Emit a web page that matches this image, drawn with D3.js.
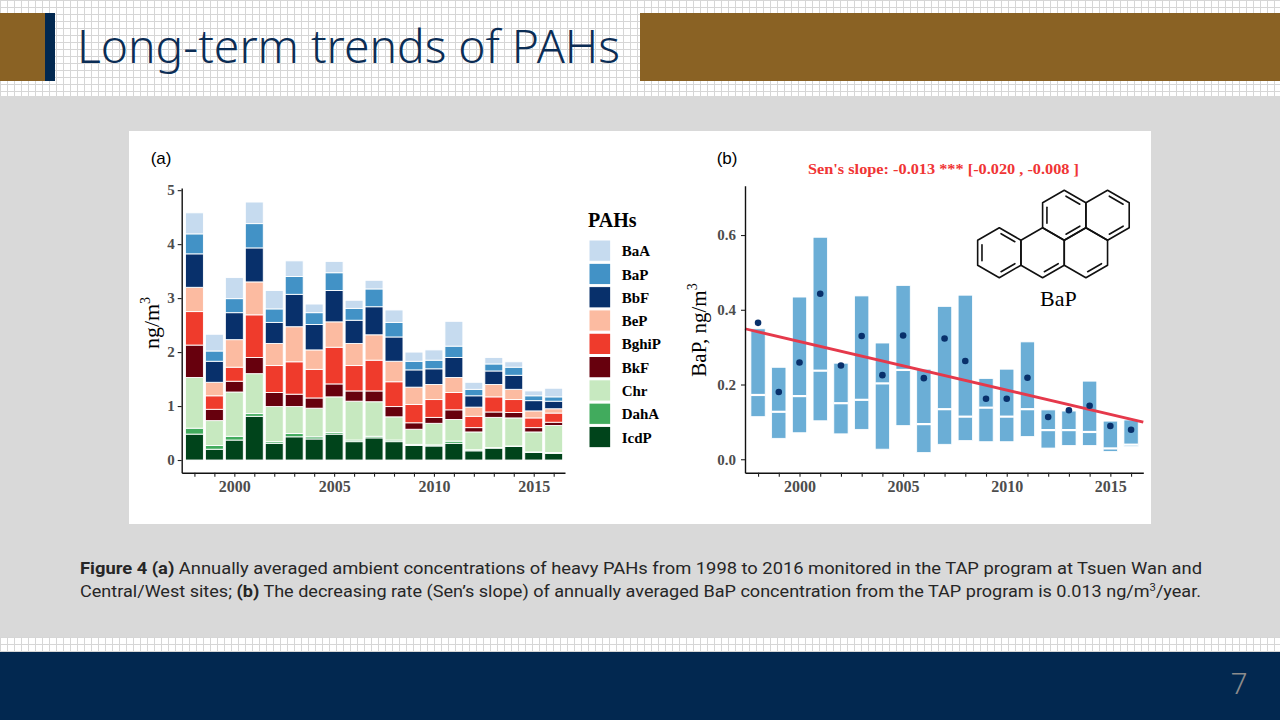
<!DOCTYPE html>
<html><head><meta charset="utf-8">
<script src="https://cdn.jsdelivr.net/npm/d3@7"></script>
<style>body{margin:0;overflow:hidden;background:#fff}svg{display:block}</style>
</head><body>
<svg id="c" width="1280" height="720"></svg>
<script>
// ---------------- DATA ----------------
const years = [1998,1999,2000,2001,2002,2003,2004,2005,2006,2007,2008,2009,2010,2011,2012,2013,2014,2015,2016];
const legendOrder = ["BaA","BaP","BbF","BeP","BghiP","BkF","Chr","DahA","IcdP"];
const stackOrder = ["IcdP","DahA","Chr","BkF","BghiP","BeP","BbF","BaP","BaA"];
const pahColors = ["#c6dbef","#4292c6","#08306b","#fcbba1","#ef3b2c","#67000d","#c7e9c0","#41ab5d","#00441b"];
const IcdP  = [0.48,0.20,0.37,0.81,0.31,0.43,0.39,0.48,0.34,0.41,0.34,0.27,0.26,0.31,0.17,0.22,0.25,0.14,0.12];
const DahA  = [0.11,0.07,0.07,0.05,0.03,0.06,0.04,0.03,0.03,0.03,0.03,0.02,0.02,0.04,0.02,0.01,0.01,0.01,0.02];
const Chr   = [0.94,0.46,0.82,0.74,0.65,0.50,0.53,0.66,0.72,0.64,0.43,0.28,0.40,0.40,0.33,0.56,0.52,0.37,0.50];
const BkF   = [0.60,0.21,0.20,0.30,0.26,0.23,0.19,0.24,0.19,0.20,0.19,0.12,0.11,0.18,0.08,0.10,0.10,0.08,0.06];
const BghiP = [0.62,0.25,0.26,0.79,0.50,0.60,0.53,0.68,0.47,0.57,0.46,0.34,0.33,0.32,0.21,0.28,0.24,0.18,0.17];
const BeP   = [0.45,0.25,0.51,0.61,0.41,0.65,0.36,0.47,0.41,0.47,0.38,0.32,0.28,0.28,0.17,0.23,0.19,0.13,0.08];
const BbF   = [0.62,0.39,0.50,0.63,0.39,0.60,0.47,0.58,0.43,0.52,0.45,0.32,0.29,0.37,0.21,0.25,0.26,0.19,0.14];
const BaP   = [0.37,0.19,0.26,0.45,0.25,0.33,0.22,0.33,0.22,0.33,0.27,0.16,0.16,0.21,0.12,0.13,0.15,0.09,0.08];
const BaA   = [0.39,0.31,0.39,0.40,0.34,0.29,0.16,0.21,0.15,0.16,0.23,0.17,0.19,0.46,0.13,0.12,0.10,0.09,0.16];

const bapMean = [0.365,0.180,0.259,0.443,0.251,0.330,0.225,0.331,0.217,0.323,0.263,0.162,0.162,0.218,0.113,0.131,0.143,0.089,0.079];
const bapHigh = [0.349,0.246,0.434,0.594,0.257,0.437,0.311,0.465,0.241,0.409,0.439,0.216,0.241,0.314,0.132,0.129,0.209,0.102,0.105];
const bapMid  = [0.172,0.127,0.169,0.237,0.150,0.159,0.203,0.239,0.094,0.134,0.114,0.138,0.114,0.134,0.078,0.078,0.073,0.029,0.039];
const bapLow  = [0.114,0.056,0.071,0.103,0.068,0.080,0.027,0.090,0.018,0.040,0.050,0.047,0.047,0.061,0.030,0.037,0.037,0.021,0.034];
const senSlope = -0.013;
const trendAt1998 = 0.341;

const yTicksA = [0,1,2,3,4,5];
const yTicksB = [0,0.2,0.4,0.6];
const yearLabels = [2000,2005,2010,2015];

// ---------------- DRAW ----------------
const svg = d3.select("#c");
const defs = svg.append("defs");
const pat = defs.append("pattern").attr("id","grid").attr("patternUnits","userSpaceOnUse").attr("width",7).attr("height",7);
pat.append("rect").attr("width",7).attr("height",7).attr("fill","#fff");
pat.append("path").attr("d","M0,0.5H7M0.5,0V7").attr("stroke","#d6d6d6").attr("stroke-width",1).attr("fill","none");

const NAVY = "#022850", BROWN = "#8a6224";
svg.append("rect").attr("x",0).attr("y",0).attr("width",1280).attr("height",96).attr("fill","url(#grid)");
svg.append("rect").attr("x",0).attr("y",96).attr("width",1280).attr("height",541).attr("fill","#d9d9d9");
svg.append("rect").attr("x",0).attr("y",637).attr("width",1280).attr("height",15).attr("fill","url(#grid)");
svg.append("rect").attr("x",0).attr("y",652).attr("width",1280).attr("height",68).attr("fill",NAVY);
svg.append("rect").attr("x",0).attr("y",13).attr("width",45).attr("height",68).attr("fill",BROWN);
svg.append("rect").attr("x",45).attr("y",13).attr("width",10).attr("height",68).attr("fill",NAVY);
svg.append("rect").attr("x",640).attr("y",13).attr("width",640).attr("height",68).attr("fill",BROWN);
svg.append("text").attr("x",77).attr("y",63).attr("textLength",543).attr("lengthAdjust","spacingAndGlyphs")
  .style("font","300 45px 'Noto Sans'").attr("fill","#0b2d55").text("Long-term trends of PAHs");
svg.append("text").attr("x",1239).attr("y",694).attr("text-anchor","middle")
  .style("font","300 30px 'Noto Sans'").attr("fill","#8c8c8c").text("7");

// white panel
svg.append("rect").attr("x",129).attr("y",131).attr("width",1022).attr("height",393).attr("fill","#fff");

const SERIF = "'Liberation Serif', 'Times New Roman', serif";
function styleAxis(g, fs){
  g.attr("font-family", SERIF).attr("font-size", fs).attr("font-weight","bold");
  g.select(".domain").attr("stroke","#111").attr("stroke-width",1.4);
  g.selectAll(".tick line").attr("stroke","#222").attr("stroke-width",1.1);
  g.selectAll(".tick text").attr("fill","#4d4d4d");
}

// ---- Panel A ----
const xA = d3.scaleLinear().domain([1997.363, 2016.567]).range([181.7, 565]);
const yA = d3.scaleLinear().domain([-0.235, 5.04]).range([472.7, 188]);
const series = {IcdP, DahA, Chr, BkF, BghiP, BeP, BbF, BaP, BaA};
const rows = years.map((yr,i) => { const r = {year: yr}; stackOrder.forEach(k => r[k] = series[k][i]); return r; });
const stacked = d3.stack().keys(stackOrder)(rows);
const colorOf = d3.scaleOrdinal().domain(legendOrder).range(pahColors);
const gA = svg.append("g");
stacked.forEach(layer => {
  gA.selectAll(null).data(layer).enter().append("rect")
    .attr("x", d => xA(d.data.year - 0.45))
    .attr("width", d => xA(d.data.year + 0.45) - xA(d.data.year - 0.45))
    .attr("y", d => yA(d[1]))
    .attr("height", d => yA(d[0]) - yA(d[1]))
    .attr("fill", colorOf(layer.key))
    .attr("stroke","#fff").attr("stroke-width",0.9);
});
const axYA = svg.append("g").attr("transform","translate(181.7,0)")
  .call(d3.axisLeft(yA).tickValues(yTicksA).tickFormat(d3.format("d")).tickSize(4).tickPadding(3).tickSizeOuter(0));
styleAxis(axYA, 15);
const axXA = svg.append("g").attr("transform","translate(0,472.7)")
  .call(d3.axisBottom(xA).tickValues(years).tickFormat(d => yearLabels.includes(d) ? d : "").tickSize(4).tickPadding(3.6).tickSizeOuter(0));
styleAxis(axXA, 16);

svg.append("text").attr("transform","translate(159,323) rotate(-90)").attr("text-anchor","middle")
  .style("font","22px " + SERIF).attr("fill","#000")
  .call(t => { t.append("tspan").text("ng/m"); t.append("tspan").attr("dy",-9).style("font-size","14px").text("3"); });
svg.append("text").attr("x",150.7).attr("y",164).style("font","17px 'Liberation Sans', Arial, sans-serif").attr("fill","#000").text("(a)");

// legend
const lg = svg.append("g");
lg.append("text").attr("x",588).attr("y",226.7).style("font","bold 20px " + SERIF).attr("fill","#000").text("PAHs");
legendOrder.forEach((k,i) => {
  lg.append("rect").attr("x",589).attr("y",240 + i*23.3).attr("width",21.7).attr("height",21.3)
    .attr("fill",colorOf(k)).attr("stroke","#fff").attr("stroke-width",1);
  lg.append("text").attr("x",621.7).attr("y",256.2 + i*23.3).style("font","bold 15px " + SERIF).attr("fill","#000").text(k);
});

// ---- Panel B ----
const xB = d3.scaleLinear().domain([1997.37, 2016.59]).range([745, 1143.3]);
const yB = d3.scaleLinear().domain([-0.036, 0.732]).range([472.7, 185.7]);
const bRows = years.map((yr,i) => ({year: yr, lo: bapLow[i], mid: bapMid[i], hi: bapHigh[i], mean: bapMean[i]}));
const gB = svg.append("g");
const hw = 0.345;
gB.selectAll("rect.box").data(bRows).enter().append("rect").attr("class","box")
  .attr("x", d => xB(d.year - hw)).attr("width", d => xB(d.year + hw) - xB(d.year - hw))
  .attr("y", d => yB(d.hi)).attr("height", d => yB(d.lo) - yB(d.hi))
  .attr("fill","#6baed6").attr("stroke","#fff").attr("stroke-width",0.8);
gB.selectAll("line.mid").data(bRows).enter().append("line").attr("class","mid")
  .attr("x1", d => xB(d.year - hw)).attr("x2", d => xB(d.year + hw))
  .attr("y1", d => yB(d.mid)).attr("y2", d => yB(d.mid))
  .attr("stroke","#fff").attr("stroke-width",2.2);
const xd = xB.domain();
gB.append("line")
  .attr("x1", xB(xd[0])).attr("y1", yB(trendAt1998 + senSlope*(xd[0]-1998)))
  .attr("x2", xB(xd[1])).attr("y2", yB(trendAt1998 + senSlope*(xd[1]-1998)))
  .attr("stroke","#e5394b").attr("stroke-width",2.8);
gB.selectAll("circle").data(bRows).enter().append("circle")
  .attr("cx", d => xB(d.year)).attr("cy", d => yB(d.mean)).attr("r",3.3).attr("fill","#08306b");

const axYB = svg.append("g").attr("transform","translate(745,0)")
  .call(d3.axisLeft(yB).tickValues(yTicksB).tickFormat(d3.format(".1f")).tickSize(4).tickPadding(5).tickSizeOuter(0));
styleAxis(axYB, 15);
const axXB = svg.append("g").attr("transform","translate(0,472.7)")
  .call(d3.axisBottom(xB).tickValues(years).tickFormat(d => yearLabels.includes(d) ? d : "").tickSize(4).tickPadding(3.6).tickSizeOuter(0));
styleAxis(axXB, 16);

svg.append("text").attr("transform","translate(706,330) rotate(-90)").attr("text-anchor","middle")
  .style("font","21px " + SERIF).attr("fill","#000")
  .call(t => { t.append("tspan").text("BaP, ng/m"); t.append("tspan").attr("dy",-9).style("font-size","14px").text("3"); });
svg.append("text").attr("x",716.7).attr("y",164).style("font","17px 'Liberation Sans', Arial, sans-serif").attr("fill","#000").text("(b)");
svg.append("text").attr("x",808).attr("y",174).attr("textLength",271).attr("lengthAdjust","spacingAndGlyphs")
  .style("font","bold 15px " + SERIF).attr("fill","#f03535").text("Sen's slope: -0.013 *** [-0.020 , -0.008 ]");

// BaP molecule
const R = 25, c30 = R*Math.sqrt(3)/2;
const ox = 999.3, oy = 252.7;
const ringCenters = [[0,0],[2*c30,0],[4*c30,0],[3*c30,-1.5*R],[5*c30,-1.5*R]].map(p => [ox+p[0], oy+p[1]]);
const hexV = c => [[c[0],c[1]-R],[c[0]+c30,c[1]-R/2],[c[0]+c30,c[1]+R/2],[c[0],c[1]+R],[c[0]-c30,c[1]+R/2],[c[0]-c30,c[1]-R/2]];
const mol = svg.append("g").attr("stroke","#111").attr("stroke-width",1.6).attr("fill","none").attr("stroke-linecap","round");
ringCenters.forEach(c => mol.append("path").attr("d","M" + hexV(c).map(p => p.join(",")).join("L") + "Z").attr("stroke-linejoin","round"));
const doubles = [[0,4],[0,0],[0,2],[3,4],[3,0],[3,2],[1,2],[4,0],[4,2],[2,2]];
doubles.forEach(([ri,ei]) => {
  const c = ringCenters[ri], v = hexV(c);
  const a = v[ei], b = v[(ei+1)%6];
  const s = 0.8;
  const ia = [c[0]+(a[0]-c[0])*s, c[1]+(a[1]-c[1])*s], ib = [c[0]+(b[0]-c[0])*s, c[1]+(b[1]-c[1])*s];
  const t1 = 0.1, t2 = 0.9;
  mol.append("line")
    .attr("x1", ia[0]+(ib[0]-ia[0])*t1).attr("y1", ia[1]+(ib[1]-ia[1])*t1)
    .attr("x2", ia[0]+(ib[0]-ia[0])*t2).attr("y2", ia[1]+(ib[1]-ia[1])*t2);
});
svg.append("text").attr("x",1040).attr("y",306).style("font","22px " + SERIF).attr("fill","#000").text("BaP");

// caption
const CAP = "'Roboto', 'Liberation Sans', sans-serif";
const c1 = svg.append("text").attr("x",80).attr("y",574).attr("textLength",1122).attr("lengthAdjust","spacingAndGlyphs")
  .style("font","16px " + CAP).attr("fill","#262626");
c1.append("tspan").attr("font-weight","bold").text("Figure 4 (a)");
c1.append("tspan").text(" Annually averaged ambient concentrations of heavy PAHs from 1998 to 2016 monitored in the TAP program at Tsuen Wan and");
const c2 = svg.append("text").attr("x",80).attr("y",597).attr("textLength",1121).attr("lengthAdjust","spacingAndGlyphs")
  .style("font","16px " + CAP).attr("fill","#262626");
c2.append("tspan").text("Central/West sites; ");
c2.append("tspan").attr("font-weight","bold").text("(b)");
c2.append("tspan").text(" The decreasing rate (Sen\u2019s slope) of annually averaged BaP concentration from the TAP program is 0.013 ng/m");
c2.append("tspan").attr("dy",-6).style("font-size","10px").text("3");
c2.append("tspan").attr("dy",6).text("/year.");
</script>
</body></html>
